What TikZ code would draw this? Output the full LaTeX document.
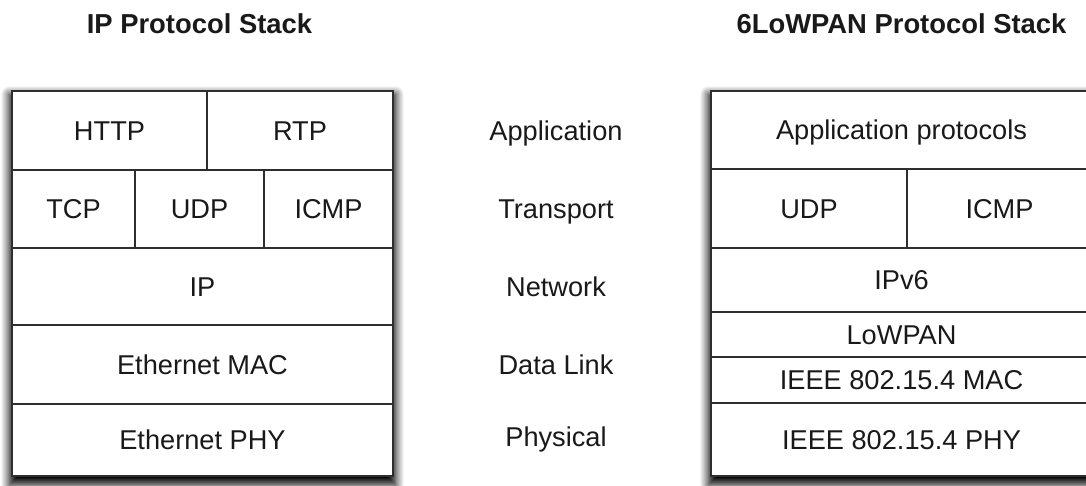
\documentclass[tikz,border=0pt]{standalone}
\usepackage{fontspec}
\setmainfont{Liberation Sans}
\usetikzlibrary{shadows.blur}
\begin{document}
\begin{tikzpicture}[x=1pt,y=-1pt,
  every node/.style={font=\fontsize{27.2}{31}\selectfont, text=black!90},
  frame/.style={draw=black!88, line width=2.4pt, fill=white, rectangle, inner sep=0pt,
    blur shadow={shadow xshift=0pt, shadow yshift=-6pt, shadow scale=1.015,
      shadow blur radius=8pt, shadow blur steps=12, shadow opacity=100}},
  cell/.style={draw=black!82, line width=2pt, rectangle, inner sep=0pt,
    text height=19.5pt, text depth=0pt},
  layer/.style={inner sep=0pt, text height=19.5pt, text depth=0pt},
  title/.style={inner sep=0pt, text height=19.6pt, text depth=0pt,
    font=\bfseries\fontsize{27.4}{30}\selectfont}]

\useasboundingbox (0,0) rectangle (1086,486);

% headings
\node[title] (iptitle) at (199.5,24) {IP Protocol Stack};
\node[title] (lowtitle) at (901.5,24) {6LoWPAN Protocol Stack};

% IP stack frame and layers
\node[frame, minimum width=381pt, minimum height=385pt] (ipframe) at (202.5,283.5) {};
\node[cell, minimum width=195pt, minimum height=79pt] (http) at (109.5,130.5) {HTTP};
\node[cell, minimum width=186pt, minimum height=79pt] (rtp) at (300,130.5) {RTP};
\node[cell, minimum width=123pt, minimum height=78pt] (tcp) at (73.5,209) {TCP};
\node[cell, minimum width=129pt, minimum height=78pt] (udp) at (199.5,209) {UDP};
\node[cell, minimum width=129pt, minimum height=78pt] (icmp) at (328.5,209) {ICMP};
\node[cell, minimum width=381pt, minimum height=77pt] (ip) at (202.5,286.5) {IP};
\node[cell, minimum width=381pt, minimum height=79pt] (emac) at (202.5,364.5) {Ethernet MAC};
\node[cell, minimum width=381pt, minimum height=72pt] (ephy) at (202.5,440) {Ethernet PHY};

% layer names
\node[layer] (lapp) at (556,131) {Application};
\node[layer] (ltrans) at (556,209) {Transport};
\node[layer] (lnet) at (556,287) {Network};
\node[layer] (llink) at (556,365) {Data Link};
\node[layer] (lphys) at (556,437) {Physical};

% 6LoWPAN stack frame and layers
\node[frame, minimum width=381pt, minimum height=385pt] (lowframe) at (901.5,283.5) {};
\node[cell, minimum width=381pt, minimum height=78pt] (appproto) at (901.5,130) {Application protocols};
\node[cell, minimum width=196pt, minimum height=79pt] (udpb) at (809,208.5) {UDP};
\node[cell, minimum width=185pt, minimum height=79pt] (icmpb) at (999.5,208.5) {ICMP};
\node[cell, minimum width=381pt, minimum height=64pt] (ipv6) at (901.5,280) {IPv6};
\node[cell, minimum width=381pt, minimum height=45pt] (lowpan) at (901.5,334.5) {LoWPAN};
\node[cell, minimum width=381pt, minimum height=46pt] (mac) at (901.5,380) {IEEE 802.15.4 MAC};
\node[cell, minimum width=381pt, minimum height=73pt] (phy) at (901.5,439.5) {IEEE 802.15.4 PHY};

\end{tikzpicture}
\end{document}
